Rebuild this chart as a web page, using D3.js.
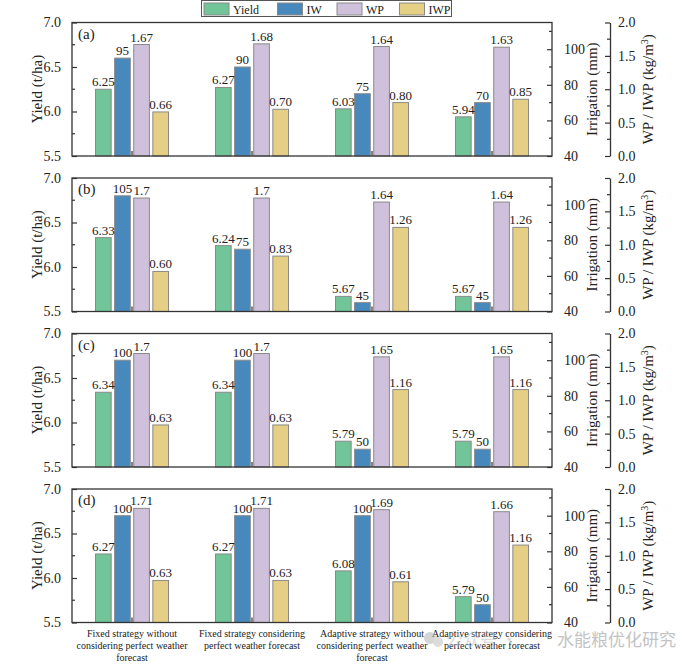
<!DOCTYPE html>
<html>
<head>
<meta charset="utf-8">
<script src="https://cdn.jsdelivr.net/npm/d3@7"></script>
<style>
  body { margin: 0; background: #fff; }
  svg { display: block; }
  text { font-family: "Liberation Serif", "DejaVu Serif", serif; fill: #222; }
</style>
</head>
<body>
<svg id="chart" width="695" height="668"></svg>
<script>
// data
const categories = [
    'Fixed strategy without considering perfect weather forecast',
    'Fixed strategy considering perfect weather forecast',
    'Adaptive strategy without considering perfect weather forecast',
    'Adaptive strategy considering perfect weather forecast',
];
const catLines = [
    ['Fixed strategy without', 'considering perfect weather', 'forecast'],
    ['Fixed strategy considering', 'perfect weather forecast'],
    ['Adaptive strategy without', 'considering perfect weather', 'forecast'],
    ['Adaptive strategy considering', 'perfect weather forecast'],
];
const series = ['Yield', 'IW', 'WP', 'IWP'];
const panelNames = ['(a)', '(b)', '(c)', '(d)'];

const yieldVals = [
    [6.25, 6.27, 6.03, 5.94],
    [6.33, 6.24, 5.67, 5.67],
    [6.34, 6.34, 5.79, 5.79],
    [6.27, 6.27, 6.08, 5.79],
];
const iwVals = [
    [95, 90, 75, 70],
    [105, 75, 45, 45],
    [100, 100, 50, 50],
    [100, 100, 100, 50],
];
const wpVals = [
    [1.67, 1.68, 1.64, 1.63],
    [1.7, 1.7, 1.64, 1.64],
    [1.7, 1.7, 1.65, 1.65],
    [1.71, 1.71, 1.69, 1.66],
];
const iwpVals = [
    [0.66, 0.70, 0.80, 0.85],
    [0.60, 0.83, 1.26, 1.26],
    [0.63, 0.63, 1.16, 1.16],
    [0.63, 0.63, 0.61, 1.16],
];

const yieldTicks = [5.5, 6.0, 6.5, 7.0];
const iwTicks = [40, 60, 80, 100];
const wpTicks = [0.0, 0.5, 1.0, 1.5, 2.0];

const colors = {Yield: '#72c599', IW: '#4789bc', WP: '#cfc1dc', IWP: '#e4cf84'};

const svg = d3.select('#chart');

const left = 72;
const right = 552;
const wpAxisX = 610;
const panelTop = [22.5, 178, 333.5, 489];
const panelH = 133.5;

const x0 = d3.scaleBand()
    .domain(categories)
    .range([left, right]);

const x1 = d3.scaleBand()
    .domain(series)
    .range([-36.5, 36.5])
    .paddingInner(0.18);

const frameColor = '#333';

panelTop.forEach((top, p) => {
    const bottom = top + panelH;
    const g = svg.append('g');

    const yY = d3.scaleLinear().domain([5.5, 7.0]).range([bottom, top]);
    const yI = d3.scaleLinear().domain([40, 115]).range([bottom, top]);
    const yW = d3.scaleLinear().domain([0, 2]).range([bottom, top]);

    const rows = categories.map((c, i) => ({
        cat: c,
        vals: [
            {s: 'Yield', v: yieldVals[p][i], y: yY, label: yieldVals[p][i].toFixed(2)},
            {s: 'IW', v: iwVals[p][i], y: yI, label: String(iwVals[p][i])},
            {s: 'WP', v: wpVals[p][i], y: yW, label: String(wpVals[p][i])},
            {s: 'IWP', v: iwpVals[p][i], y: yW, label: iwpVals[p][i].toFixed(2)},
        ],
    }));

    const grp = g.selectAll('.grp')
        .data(rows)
        .enter()
        .append('g')
        .attr('transform', (d) => 'translate(' + (x0(d.cat) + x0.bandwidth() / 2) + ',0)');

    grp.selectAll('rect')
        .data((d) => d.vals)
        .enter()
        .append('rect')
        .attr('x', (d) => x1(d.s))
        .attr('width', x1.bandwidth())
        .attr('y', (d) => d.y(d.v))
        .attr('height', (d) => bottom - d.y(d.v))
        .style('fill', (d) => colors[d.s])
        .style('stroke', '#8a8a8a')
        .style('stroke-width', 1);

    grp.selectAll('.lbl')
        .data((d) => d.vals)
        .enter()
        .append('text')
        .attr('x', (d) => x1(d.s) + x1.bandwidth() / 2)
        .attr('y', (d) => d.y(d.v) - 3)
        .attr('text-anchor', 'middle')
        .style('font-size', '13px')
        .text((d) => d.label);

    // frame
    g.append('rect')
        .attr('x', left)
        .attr('y', top)
        .attr('width', right - left)
        .attr('height', panelH)
        .style('fill', 'none')
        .style('stroke', frameColor)
        .style('stroke-width', 1.3);

    // left axis, ticks inside
    const axL = d3.axisLeft(yY).tickValues(yieldTicks).tickFormat(d3.format('.1f'))
        .tickSizeInner(-5).tickSizeOuter(0).tickPadding(11);
    const gl = g.append('g').attr('transform', 'translate(' + left + ',0)').call(axL);
    gl.select('.domain').remove();
    gl.selectAll('text').style('font-size', '14px').style('font-family', '"Liberation Serif", serif').attr('fill', '#222');
    gl.selectAll('line').attr('stroke', frameColor).attr('stroke-width', 1.2);
    g.selectAll('.minorL')
        .data(yieldTicks.slice(0, -1).map((t) => t + 0.25))
        .enter()
        .append('line')
        .attr('x1', left).attr('x2', left + 3)
        .attr('y1', (d) => yY(d)).attr('y2', (d) => yY(d))
        .style('stroke', frameColor).style('stroke-width', 1.2);

    // irrigation axis on frame, ticks inside
    const axR = d3.axisRight(yI).tickValues(iwTicks)
        .tickSizeInner(-5).tickSizeOuter(0).tickPadding(12);
    const gr = g.append('g').attr('transform', 'translate(' + right + ',0)').call(axR);
    gr.select('.domain').remove();
    gr.selectAll('text').style('font-size', '14px').style('font-family', '"Liberation Serif", serif').attr('fill', '#222');
    gr.selectAll('line').attr('stroke', frameColor).attr('stroke-width', 1.2);
    g.selectAll('.minorR')
        .data([50, 70, 90, 110])
        .enter()
        .append('line')
        .attr('x1', right - 3).attr('x2', right)
        .attr('y1', (d) => yI(d)).attr('y2', (d) => yI(d))
        .style('stroke', frameColor).style('stroke-width', 1.2);

    // WP / IWP axis, offset
    const axW = d3.axisRight(yW).tickValues(wpTicks).tickFormat(d3.format('.1f'))
        .tickSizeInner(-5).tickSizeOuter(0).tickPadding(8);
    const gw = g.append('g').attr('transform', 'translate(' + wpAxisX + ',0)').call(axW);
    gw.select('.domain').attr('stroke', frameColor).attr('stroke-width', 1.3);
    gw.selectAll('text').style('font-size', '14px').style('font-family', '"Liberation Serif", serif').attr('fill', '#222');
    gw.selectAll('line').attr('stroke', frameColor).attr('stroke-width', 1.2);
    g.selectAll('.minorW')
        .data([0.25, 0.75, 1.25, 1.75])
        .enter()
        .append('line')
        .attr('x1', wpAxisX - 3).attr('x2', wpAxisX)
        .attr('y1', (d) => yW(d)).attr('y2', (d) => yW(d))
        .style('stroke', frameColor).style('stroke-width', 1.2);

    // bottom ticks at group centres
    g.selectAll('.xt')
        .data(categories)
        .enter()
        .append('line')
        .attr('x1', (d) => x0(d) + x0.bandwidth() / 2)
        .attr('x2', (d) => x0(d) + x0.bandwidth() / 2)
        .attr('y1', bottom)
        .attr('y2', bottom - 5)
        .style('stroke', frameColor).style('stroke-width', 1.2);

    g.append('text')
        .attr('x', left + 6)
        .attr('y', top + 16)
        .style('font-size', '15px')
        .text(panelNames[p]);

    const midY = top + panelH / 2;
    g.append('text')
        .attr('transform', 'translate(42,' + midY + ') rotate(-90)')
        .attr('text-anchor', 'middle')
        .style('font-size', '15px')
        .text('Yield (t/ha)');
    g.append('text')
        .attr('transform', 'translate(597,' + midY + ') rotate(-90)')
        .attr('text-anchor', 'middle')
        .style('font-size', '15px')
        .text('Irrigation (mm)');
    const wl = g.append('text')
        .attr('transform', 'translate(653,' + midY + ') rotate(-90)')
        .attr('text-anchor', 'middle')
        .style('font-size', '15px');
    wl.append('tspan').text('WP / IWP (kg/m');
    wl.append('tspan').attr('dy', -5).style('font-size', '10px').text('3');
    wl.append('tspan').attr('dy', 5).text(')');

    if (p === panelTop.length - 1) {
        const cl = g.selectAll('.cat')
            .data(catLines)
            .enter()
            .append('text')
            .attr('text-anchor', 'middle')
            .style('font-size', '10px');
        cl.selectAll('tspan')
            .data((d, i) => d.map((line) => ({line: line, i: i})))
            .enter()
            .append('tspan')
            .attr('x', (d) => x0(categories[d.i]) + x0.bandwidth() / 2)
            .attr('y', (d, j) => bottom + 14 + j * 12)
            .text((d) => d.line);
    }
});

// legend
const lg = svg.append('g');
lg.append('rect')
    .attr('x', 201.5).attr('y', 0.5)
    .attr('width', 250).attr('height', 16)
    .style('fill', '#fff').style('stroke', '#555').style('stroke-width', 1);
const legX = d3.scaleOrdinal().domain(series).range([204, 277.5, 337, 399.5]);
series.forEach((s) => {
    lg.append('rect')
        .attr('x', legX(s)).attr('y', 3)
        .attr('width', 25).attr('height', 12)
        .style('fill', colors[s]).style('stroke', '#8a8a8a');
    lg.append('text')
        .attr('x', legX(s) + 29).attr('y', 13.5)
        .style('font-size', '12px')
        .text(s);
});

// watermark
const wm = svg.append('g').style('opacity', 0.5);
wm.append('circle').attr('cx', 430).attr('cy', 638).attr('r', 6).style('fill', '#aaa');
wm.append('circle').attr('cx', 438).attr('cy', 642).attr('r', 5).style('fill', '#bbb');
wm.append('text')
    .attr('x', 446).attr('y', 646)
    .style('font-family', '"Noto Sans CJK SC", sans-serif')
    .style('font-size', '17px')
    .style('fill', '#bbb')
    .text('公众号 · ');
svg.append('text')
    .attr('x', 557).attr('y', 646)
    .style('font-family', '"Noto Sans CJK SC", sans-serif')
    .style('font-size', '17px')
    .style('fill', '#b5b5b5')
    .style('opacity', 0.8)
    .text('水能粮优化研究');
</script>
</body>
</html>
